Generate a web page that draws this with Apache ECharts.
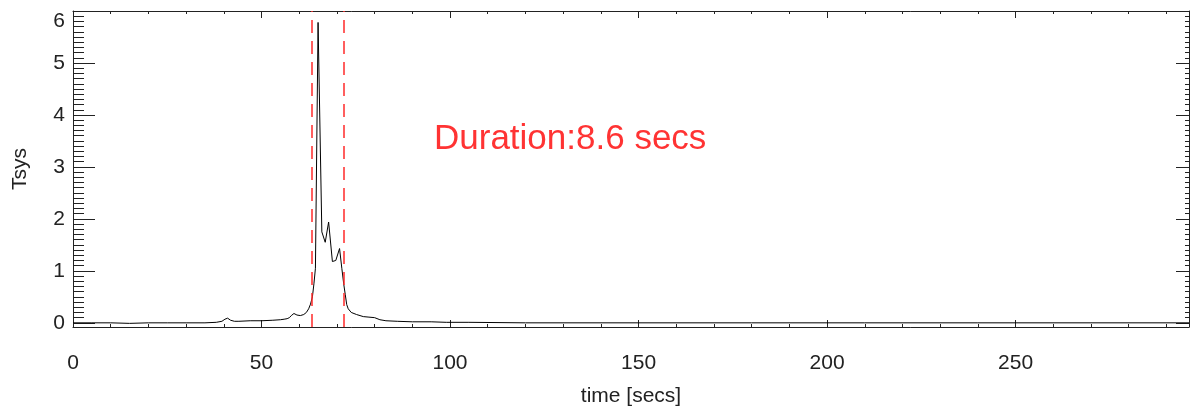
<!DOCTYPE html>
<html>
<head>
<meta charset="utf-8">
<script src="https://cdn.jsdelivr.net/npm/echarts@6/dist/echarts.min.js"></script>
<style>
html,body{margin:0;padding:0;background:#fff;}
#chart{width:1191px;height:412px;}
</style>
</head>
<body>
<div id="chart"></div>
<script>
// ---- data ----
const timeSecs = [0, 5, 10, 15, 20, 25, 30, 35, 38, 39.5, 40.3, 41.0, 41.8, 42.8, 44, 47, 50, 53, 55, 56, 56.8, 57.4, 57.9, 58.6, 59.4, 60.3, 61.2, 61.9, 62.5, 63.0, 63.5, 63.9, 64.3, 65.0, 66.0, 66.9, 67.8, 68.8, 69.7, 70.7, 71.3, 71.8, 72.2, 72.6, 73.0, 73.8, 75.2, 77, 78.5, 80, 81.4, 83, 86, 90, 95, 99, 105, 120, 150, 180, 210, 240, 270, 296];
const tsys =      [0.0, 0.0, 0.0, -0.01, 0.0, 0.0, 0.0, 0.0, 0.01, 0.03, 0.07, 0.09, 0.05, 0.03, 0.03, 0.04, 0.04, 0.05, 0.06, 0.07, 0.08, 0.1, 0.14, 0.18, 0.15, 0.14, 0.16, 0.2, 0.27, 0.36, 0.5, 0.75, 1.05, 5.78, 1.75, 1.55, 1.94, 1.18, 1.2, 1.43, 1.05, 0.75, 0.55, 0.35, 0.27, 0.2, 0.16, 0.12, 0.11, 0.1, 0.06, 0.04, 0.03, 0.02, 0.02, 0.01, 0.01, 0.0, 0.0, 0.0, 0.0, 0.0, 0.0, 0.0];
const durationBounds = [63.2, 71.8];
const durationText = 'Duration:8.6 secs';
const xMajorTicks = [0, 50, 100, 150, 200, 250];
const xMinorTicks = [10, 20, 30, 40, 60, 70, 80, 90, 110, 120, 130, 140, 160, 170, 180, 190, 210, 220, 230, 240, 260, 270, 280, 290];
const yMajorTicks = [0, 1, 2, 3, 4, 5, 6];
const yMinorTicks = [0.1,0.2,0.3,0.4,0.5,0.6,0.7,0.8,0.9,
  1.1,1.2,1.3,1.4,1.5,1.6,1.7,1.8,1.9,
  2.1,2.2,2.3,2.4,2.5,2.6,2.7,2.8,2.9,
  3.1,3.2,3.3,3.4,3.5,3.6,3.7,3.8,3.9,
  4.1,4.2,4.3,4.4,4.5,4.6,4.7,4.8,4.9,
  5.1,5.2,5.3,5.4,5.5,5.6,5.7,5.8,5.9];
const xRange = [0, 296];
const yRange = [-0.08, 6];

const FONT = '"Liberation Sans", Arial, Helvetica, sans-serif';
const AX = '#222';

function xAx(pos, ticks, len, showLine, showLabels) {
  return {
    type: 'value', position: pos, min: xRange[0], max: xRange[1],
    axisLine: {show: showLine, onZero: false, lineStyle: {color: AX, width: 1}},
    axisTick: {show: true, inside: true, length: len, customValues: ticks, lineStyle: {color: AX, width: 1}},
    axisLabel: showLabels ? {show: true, customValues: ticks, fontSize: 21, color: AX, fontFamily: FONT, margin: 26} : {show: false},
    splitLine: {show: false}
  };
}
function yAx(pos, ticks, len, showLine, showLabels) {
  return {
    type: 'value', position: pos, min: yRange[0], max: yRange[1],
    axisLine: {show: showLine, onZero: false, lineStyle: {color: AX, width: 1}},
    axisTick: {show: true, inside: true, length: len, customValues: ticks, lineStyle: {color: AX, width: 1}},
    axisLabel: showLabels ? {
      show: true, customValues: ticks, fontSize: 21, color: AX, fontFamily: FONT, margin: 8,
      formatter: v => v === 6 ? '{t|6}' : String(v),
      rich: {t: {fontSize: 21, color: AX, fontFamily: FONT, padding: [20, 0, 0, 0]}}
    } : {show: false},
    splitLine: {show: false}
  };
}

const data = timeSecs.map((t, i) => [t, tsys[i]]);

const chart = echarts.init(document.getElementById('chart'), null, {renderer: 'canvas'});
chart.setOption({
  animation: false,
  backgroundColor: '#fff',
  grid: {left: 73, right: 2, top: 11, bottom: 81, containLabel: false},
  xAxis: [
    Object.assign(xAx('bottom', xMajorTicks, 7, true, true), {
      name: 'time [secs]', nameLocation: 'middle', nameGap: 59,
      nameTextStyle: {fontSize: 21, color: AX, fontFamily: FONT}
    }),
    xAx('bottom', xMinorTicks, 3, false, false),
    xAx('top', xMajorTicks, 7, true, false),
    xAx('top', xMinorTicks, 3, false, false)
  ],
  yAxis: [
    Object.assign(yAx('left', yMajorTicks, 22, true, true), {
      name: 'Tsys', nameLocation: 'middle', nameGap: 42,
      nameTextStyle: {fontSize: 21, color: AX, fontFamily: FONT}
    }),
    yAx('left', yMinorTicks, 11, false, false),
    yAx('right', yMajorTicks, 13, true, false),
    yAx('right', yMinorTicks, 4, false, false)
  ],
  series: [{
    type: 'line', xAxisIndex: 0, yAxisIndex: 0,
    data: data, showSymbol: false, symbol: 'none',
    lineStyle: {color: '#000', width: 1},
    markLine: {
      silent: true, symbol: 'none', label: {show: false},
      lineStyle: {color: '#ff2a2a', width: 1.5, type: [13, 8], opacity: 1},
      data: durationBounds.map(v => ({xAxis: v}))
    }
  }],
  graphic: [{
    type: 'text', left: 434, top: 122,
    style: {text: durationText, fontSize: 35, fill: '#ff3333', fontFamily: FONT}
  }]
});
</script>
</body>
</html>
